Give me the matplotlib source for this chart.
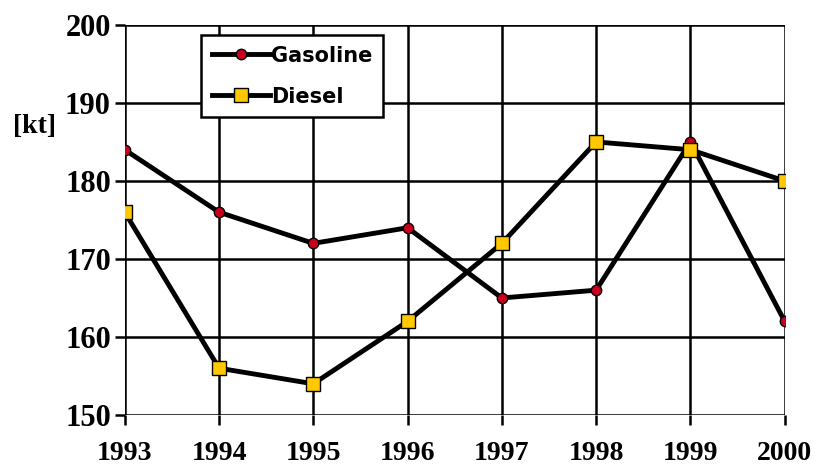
import matplotlib
matplotlib.use("Agg")
import matplotlib.pyplot as plt

years = [1993, 1994, 1995, 1996, 1997, 1998, 1999, 2000]
gasoline = [184, 176, 172, 174, 165, 166, 185, 162]
diesel = [176, 156, 154, 162, 172, 185, 184, 180]
y_ticks = [150, 160, 170, 180, 190, 200]

fig = plt.figure(figsize=(8.26, 4.70), dpi=100)
ax = fig.add_axes([0.151, 0.117, 0.799, 0.830])

ax.plot(years, gasoline, color="black", linewidth=3.5, marker="o",
        markersize=7.5, markerfacecolor="#c8001e", markeredgecolor="black",
        markeredgewidth=1.0, label="Gasoline", zorder=3)
ax.plot(years, diesel, color="black", linewidth=3.5, marker="s",
        markersize=9.5, markerfacecolor="#ffc800", markeredgecolor="black",
        markeredgewidth=1.0, label="Diesel", zorder=3)

ax.set_xlim(1993, 2000)
ax.set_ylim(150, 200)
ax.set_xticks(years)
ax.set_yticks(y_ticks)
ax.grid(True, color="black", linewidth=1.8)
for s in ax.spines.values():
    s.set_visible(False)
ax.tick_params(axis="both", direction="out", length=7, width=1.8, color="black")
ax.tick_params(axis="x", pad=12)
ax.tick_params(axis="y", pad=3)

for lab in ax.get_xticklabels():
    lab.set_fontfamily("Liberation Serif")
    lab.set_fontweight("bold")
    lab.set_fontsize(20)
for lab in ax.get_yticklabels():
    lab.set_fontfamily("Liberation Serif")
    lab.set_fontweight("bold")
    lab.set_fontsize(22)

fig.text(0.016, 0.73, "[kt]", fontfamily="Liberation Serif", fontweight="bold",
         fontsize=20, ha="left", va="center")

leg = ax.legend(loc="upper left", bbox_to_anchor=(0.10, 1.0),
                prop={"family": "DejaVu Sans", "weight": "bold", "size": 15},
                frameon=True, fancybox=False, borderpad=0.5,
                handlelength=2.8, handletextpad=0.05, labelspacing=1.0)
leg.get_frame().set_edgecolor("black")
leg.get_frame().set_linewidth(1.8)
leg.get_frame().set_alpha(1)

fig.savefig("out.png", dpi=100)
